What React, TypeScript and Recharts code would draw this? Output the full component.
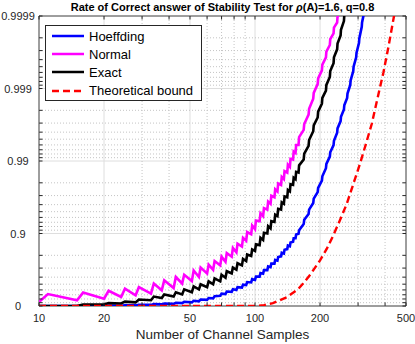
import {
  LineChart,
  Line,
  XAxis,
  YAxis,
  CartesianGrid,
  ReferenceLine,
  ReferenceArea,
  Legend,
} from "recharts";

// y values are plotted as -log10(1 - rate): 0 -> 0, 0.9 -> 1, 0.99 -> 2 ...
const samples = [
  10, 11, 15, 16, 20, 21, 24, 25, 28, 29, 33, 34, 37, 38, 42, 43, 46, 47, 51, 52,
  55, 56, 60, 61, 64, 65, 69, 70, 73, 74, 78, 79, 82, 83, 87, 88, 91, 92, 96, 97,
  100, 101, 105, 106, 109, 110, 114, 115, 118, 119, 123, 124, 127, 128, 132, 133,
  136, 137, 141, 142, 145, 146, 150, 151, 154, 155, 159, 160, 168, 169, 177, 178,
  186, 187, 195, 196, 204, 205, 213, 214, 222, 223, 231, 232, 240, 241, 249, 250,
  258, 259, 267, 268, 276, 277, 285, 286, 294, 295, 303, 304, 312, 313, 321, 322,
];

const hoeffding = [
  0, 0, 0, 0, 0, 0.005, 0.003, 0.01, 0.008, 0.018, 0.015, 0.027, 0.022, 0.035,
  0.03, 0.045, 0.04, 0.058, 0.05, 0.072, 0.065, 0.09, 0.085, 0.11, 0.105, 0.135,
  0.14, 0.17, 0.165, 0.2, 0.195, 0.23, 0.22, 0.26, 0.255, 0.295, 0.29, 0.33,
  0.325, 0.37, 0.36, 0.405, 0.405, 0.455, 0.445, 0.495, 0.495, 0.545, 0.535,
  0.585, 0.585, 0.635, 0.625, 0.675, 0.685, 0.735, 0.725, 0.775, 0.785, 0.835,
  0.825, 0.875, 0.885, 0.935, 0.935, 0.985, 0.995, 1.045, 1.13, 1.19, 1.27,
  1.33, 1.42, 1.48, 1.57, 1.63, 1.73, 1.79, 1.9, 1.96, 2.06, 2.12, 2.22, 2.28,
  2.39, 2.45, 2.55, 2.61, 2.71, 2.77, 2.87, 2.93, 3.05, 3.11, 3.24, 3.3, 3.43,
  3.49, 3.63, 3.69, 3.85, 3.91, 4.07, 4.13,
];

const normal = [
  0.055, 0.165, 0.078, 0.185, 0.1, 0.21, 0.124, 0.24, 0.147, 0.26, 0.17, 0.31,
  0.216, 0.354, 0.248, 0.4, 0.31, 0.43, 0.344, 0.49, 0.4, 0.53, 0.45, 0.57, 0.5,
  0.62, 0.56, 0.68, 0.61, 0.73, 0.68, 0.8, 0.74, 0.86, 0.82, 0.94, 0.9, 1.02,
  0.99, 1.11, 1.06, 1.18, 1.17, 1.28, 1.24, 1.35, 1.33, 1.44, 1.41, 1.52, 1.5,
  1.61, 1.58, 1.69, 1.67, 1.78, 1.75, 1.86, 1.84, 1.95, 1.92, 2.03, 2.02, 2.13,
  2.11, 2.22, 2.22, 2.33, 2.43, 2.51, 2.64, 2.72, 2.86, 2.94, 3.06, 3.14, 3.25,
  3.33, 3.43, 3.51, 3.6, 3.68, 3.76, 3.84, 3.91, 3.99, 4.06, 4.14,
  null, null, null, null, null, null, null, null, null, null, null, null, null,
  null, null, null,
];

const exact = [
  0, 0, 0, 0.02, 0.02, 0.04, 0.035, 0.06, 0.05, 0.09, 0.08, 0.13, 0.11, 0.16,
  0.13, 0.19, 0.16, 0.23, 0.19, 0.27, 0.23, 0.3, 0.26, 0.34, 0.3, 0.38, 0.34,
  0.43, 0.39, 0.48, 0.45, 0.53, 0.5, 0.59, 0.56, 0.65, 0.62, 0.71, 0.69, 0.78,
  0.76, 0.85, 0.84, 0.94, 0.91, 1.01, 1.0, 1.1, 1.07, 1.17, 1.16, 1.26, 1.24,
  1.34, 1.33, 1.43, 1.41, 1.51, 1.5, 1.6, 1.58, 1.68, 1.67, 1.77, 1.75, 1.85,
  1.84, 1.94, 2.02, 2.1, 2.21, 2.29, 2.41, 2.49, 2.6, 2.68, 2.79, 2.87, 2.97,
  3.05, 3.16, 3.24, 3.35, 3.43, 3.54, 3.62, 3.73, 3.81, 3.93, 4.01, 4.13, 4.21,
  null, null, null, null, null, null, null, null, null, null, null, null,
];

const boundSamples = [
  10, 50, 100, 110, 121, 140, 158, 167, 180, 200, 215, 230, 247, 266, 285, 306,
  325, 347, 370, 393, 415, 440, 460,
];
const bound = [
  0, 0, 0, 0.012, 0.04, 0.12, 0.23, 0.31, 0.43, 0.63, 0.79, 0.97, 1.18, 1.41,
  1.68, 1.96, 2.22, 2.51, 2.88, 3.22, 3.58, 4.0, 4.32,
];

const xTicks = [10, 20, 50, 100, 200, 500];
const xMinor = [30, 40, 60, 70, 80, 90, 300, 400];
const yTicks = [0, 1, 2, 3, 4];
const yTickLabels = ["0", "0.9", "0.99", "0.999", "0.9999"];

const yMinor: number[] = [];
for (let k = 0; k < 4; k++) {
  for (let m = 2; m <= 9; m++) yMinor.push(k + 1 - Math.log10(m));
}

const SERIES = [
  { key: "hoeffding", name: "Hoeffding", color: "#0000ff", dash: undefined },
  { key: "normal", name: "Normal", color: "#ff00ff", dash: undefined },
  { key: "exact", name: "Exact", color: "#000000", dash: undefined },
  { key: "bound", name: "Theoretical bound", color: "#ff0000", dash: "7 4" },
];

const data = samples.map((n, i) => ({
  n,
  hoeffding: hoeffding[i],
  normal: normal[i],
  exact: exact[i],
}));
const boundData = boundSamples.map((n, i) => ({ n, bound: bound[i] }));

const FONT = "'Liberation Sans', Arial, Helvetica, sans-serif";
const AXIS = "#262626";
// tick length in data units (about 3.5px)
const TX = Math.pow(10, 3.5 / 216);
const TY = 3.5 / 72.5;

function LegendBox() {
  return (
    <div
      style={{
        width: 157,
        height: 76,
        border: "1px solid " + AXIS,
        background: "#fff",
        boxSizing: "border-box",
        paddingTop: 1,
        fontFamily: FONT,
        fontSize: 13,
        color: "#000",
      }}
    >
      {SERIES.map((s) => (
        <div
          key={s.key}
          style={{ display: "flex", alignItems: "center", height: 18.2 }}
        >
          <svg width={43} height={6} style={{ flex: "none" }}>
            <line
              x1={6}
              x2={38}
              y1={3}
              y2={3}
              stroke={s.color}
              strokeWidth={2.5}
              strokeDasharray={s.dash}
            />
          </svg>
          <span style={{ whiteSpace: "nowrap" }}>{s.name}</span>
        </div>
      ))}
    </div>
  );
}

export default function App() {
  const tickLines = [];
  [...xTicks, ...xMinor].forEach((x) => {
    tickLines.push(
      <ReferenceLine key={"xb" + x} segment={[{ x, y: 0 }, { x, y: TY }]} stroke={AXIS} />,
      <ReferenceLine key={"xt" + x} segment={[{ x, y: 4 - TY }, { x, y: 4 }]} stroke={AXIS} />
    );
  });
  [...yTicks, ...yMinor].forEach((y) => {
    tickLines.push(
      <ReferenceLine key={"yl" + y} segment={[{ x: 10, y }, { x: 10 * TX, y }]} stroke={AXIS} />,
      <ReferenceLine key={"yr" + y} segment={[{ x: 500 / TX, y }, { x: 500, y }]} stroke={AXIS} />
    );
  });

  return (
    <div
      style={{
        position: "absolute",
        left: 0,
        top: 0,
        width: 415,
        height: 344,
        background: "#fff",
        fontFamily: FONT,
      }}
    >
      <div
        style={{
          position: "absolute",
          left: 39,
          width: 367,
          top: 1,
          textAlign: "center",
          fontSize: 11,
          lineHeight: "13px",
          fontWeight: "bold",
          color: "#000",
          whiteSpace: "nowrap",
        }}
      >
        Rate of Correct answer of Stability Test for <i>ρ</i>(A)=1.6, q=0.8
      </div>
      <LineChart
        width={415}
        height={344}
        data={data}
        margin={{ top: 16, right: 9, left: 0, bottom: 0 }}
      >
        <CartesianGrid stroke="#dedede" strokeWidth={1} />
        {xMinor.map((x) => (
          <ReferenceLine key={"mx" + x} x={x} stroke="#c4c4c4" strokeDasharray="1 2" />
        ))}
        {yMinor.map((y) => (
          <ReferenceLine key={"my" + y} y={y} stroke="#c4c4c4" strokeDasharray="1 2" />
        ))}
        <XAxis
          dataKey="n"
          type="number"
          scale="log"
          domain={[10, 500]}
          ticks={xTicks}
          allowDataOverflow
          height={38}
          tickLine={false}
          axisLine={false}
          tick={{ fill: AXIS, fontSize: 11, fontFamily: FONT }}
          label={{
            value: "Number of Channel Samples",
            position: "insideBottom",
            offset: 5,
            fill: AXIS,
            fontSize: 13.5,
            fontFamily: FONT,
          }}
        />
        <YAxis
          type="number"
          domain={[0, 4]}
          ticks={yTicks}
          allowDataOverflow
          width={39}
          tickLine={false}
          axisLine={false}
          tick={({ y, payload }: any) => (
            <text
              x={18}
              y={y}
              dy={4}
              textAnchor="middle"
              fontSize={11}
              fontFamily={FONT}
              fill={AXIS}
            >
              {yTickLabels[payload.value]}
            </text>
          )}
        />
        <Legend
          layout="vertical"
          align="center"
          verticalAlign="middle"
          content={() => <LegendBox />}
          wrapperStyle={{ left: 45, top: 25, width: 157, height: 76 }}
        />
        {SERIES.slice(0, 3).map((s) => (
          <Line
            key={s.key}
            dataKey={s.key}
            name={s.name}
            stroke={s.color}
            strokeWidth={2.6}
            dot={false}
            activeDot={false}
            isAnimationActive={false}
          />
        ))}
        <Line
          data={boundData}
          dataKey="bound"
          name="Theoretical bound"
          stroke="#ff0000"
          strokeWidth={2.4}
          strokeDasharray="7 4"
          dot={false}
          activeDot={false}
          isAnimationActive={false}
        />
        <ReferenceArea
          x1={10}
          x2={500}
          y1={0}
          y2={4}
          fill="none"
          stroke="#4d4d4d"
          strokeWidth={1}
        />
        {tickLines}
      </LineChart>
    </div>
  );
}
